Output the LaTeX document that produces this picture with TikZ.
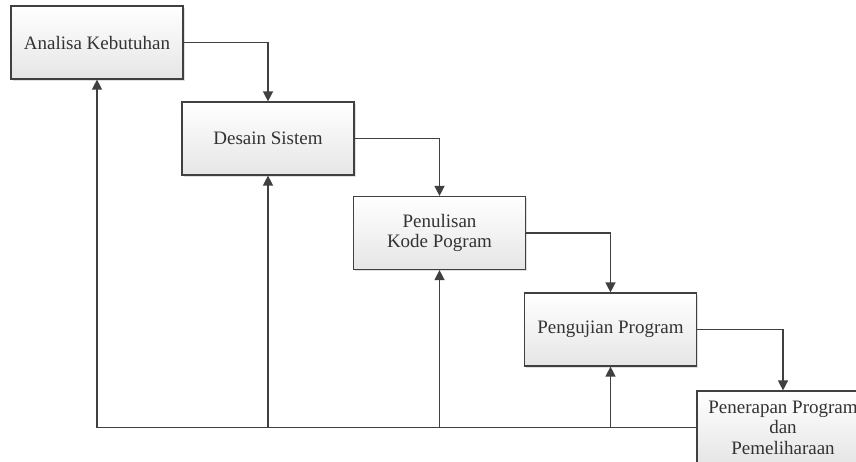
\documentclass[tikz,border=0pt]{standalone}
\usepackage{fontspec}
\setmainfont{Liberation Serif}
\usepackage{tikz}
\usetikzlibrary{arrows.meta, shadows, calc}
\definecolor{line1}{rgb}{0.25, 0.25, 0.25}
\definecolor{text1}{rgb}{0.2, 0.2, 0.2}
\definecolor{fill2}{rgb}{0.9, 0.9, 0.9}

\begin{document}
\begin{tikzpicture}[x=0.5pt, y=-0.5pt]
\tikzstyle{phase} = [draw=line1, line width=0.6pt, top color=white, bottom color=fill2, minimum width=86pt, minimum height=36.5pt, align=center, text=text1, font=\fontsize{9.5}{10.3}\selectfont, drop shadow={shadow xshift=0.8pt, shadow yshift=-0.8pt, opacity=0.25}];
\tikzstyle{arrow} = [-{Triangle[width=5pt, length=5pt]}, draw=line1, line width=0.7pt]

\clip (0,0) rectangle (856,461);
\fill [white] (0,0) rectangle (856,461);

\node [phase] (analisa) at (97,42.5) {Analisa Kebutuhan};
\node [phase] (desain) at (268,138.5) {Desain Sistem};
\node [phase] (kode) at (439.5,233) {Penulisan\\Kode Pogram};
\node [phase] (uji) at (610.5,329.5) {Pengujian Program};
\node [phase] (terap) at (783,427.5) {Penerapan Program\\dan\\Pemeliharaan};

\draw [arrow] (analisa.east) -| (desain.north);
\draw [arrow] (desain.east) -| (kode.north);
\draw [arrow] (kode.east) -| (uji.north);
\draw [arrow] (uji.east) -| (terap.north);

\coordinate (balik) at (terap.west);
\draw [arrow] (balik) -| (analisa.south);
\draw [arrow] (balik -| desain.south) -- (desain.south);
\draw [arrow] (balik -| kode.south) -- (kode.south);
\draw [arrow] (balik -| uji.south) -- (uji.south);
\end{tikzpicture}
\end{document}
